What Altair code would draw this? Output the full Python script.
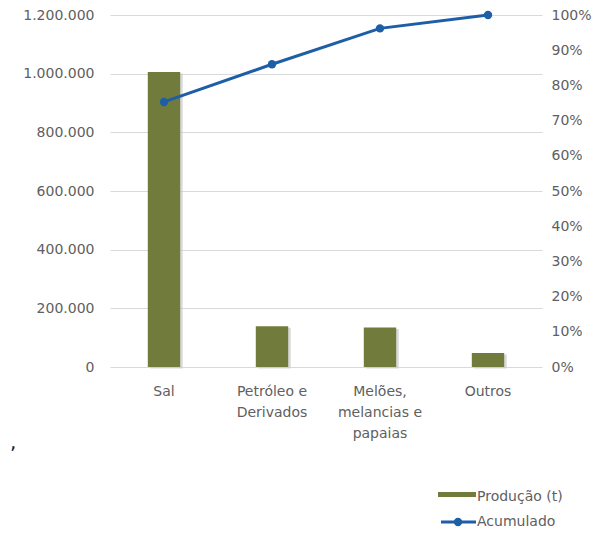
import altair as alt
import pandas as pd

categories = ["Sal", "Petróleo e\nDerivados", "Melões,\nmelancias e\npapaias", "Outros"]
producao = [1006000, 139000, 134500, 48000]
acumulado = [0.753, 0.860, 0.962, 1.0]
left_ticks = [0, 200000, 400000, 600000, 800000, 1000000, 1200000]
right_ticks = [0, 0.1, 0.2, 0.3, 0.4, 0.5, 0.6, 0.7, 0.8, 0.9, 1.0]
legend_labels = ["Produção (t)", "Acumulado"]

df = pd.DataFrame({"cat": categories, "prod": producao, "acum": acumulado})

FONT = "DejaVu Sans"
TXT = "#606060"
OLIVE = "#717c3c"
BLUE = "#1d5ea6"

xenc = alt.X(
    "cat:N",
    sort=categories,
    scale=alt.Scale(paddingInner=0.7, paddingOuter=0.35),
    axis=alt.Axis(
        title=None, labelAngle=0, domain=False, ticks=False,
        labelExpr="split(datum.label, '\\n')", labelLineHeight=21,
        labelPadding=17, labelFontSize=14, labelColor=TXT, labelFont=FONT,
        labelBaseline="top",
    ),
)

yleft = alt.Y(
    "prod:Q",
    scale=alt.Scale(domain=[0, 1200000], nice=False),
    axis=alt.Axis(
        title=None, values=left_ticks, domain=False, ticks=False,
        labelExpr="replace(format(datum.value, ',d'), regexp(',', 'g'), '.')",
        labelPadding=16, labelFontSize=14, labelColor=TXT, labelFont=FONT,
        grid=True, gridColor="#d9d9d9", gridWidth=1,
    ),
)

shadow = alt.Chart(df).mark_bar(color="#c9c9c9", opacity=0.7, xOffset=2.5, yOffset=1.5).encode(
    x=xenc, y=yleft
)
bars = alt.Chart(df).mark_bar(color=OLIVE).encode(x=xenc, y=yleft)

yright = alt.Y(
    "acum:Q",
    scale=alt.Scale(domain=[0, 1], nice=False),
    axis=alt.Axis(
        title=None, orient="right", values=right_ticks, format=".0%",
        domain=False, ticks=False, grid=False,
        labelPadding=9, labelFontSize=14, labelColor=TXT, labelFont=FONT,
    ),
)
line = alt.Chart(df).mark_line(color=BLUE, strokeWidth=3).encode(x=xenc, y=yright)
pts = alt.Chart(df).mark_point(color=BLUE, filled=True, size=70, opacity=1).encode(x=xenc, y=yright)

one = alt.Data(values=[{"a": 1}])
leg_rect = alt.Chart(one).mark_rect(color=OLIVE).encode(
    x=alt.value(328), x2=alt.value(366), y=alt.value(477), y2=alt.value(482)
)
leg_text1 = alt.Chart(one).mark_text(
    text=legend_labels[0], align="left", baseline="middle", font=FONT, fontSize=14, color=TXT
).encode(x=alt.value(367), y=alt.value(482))
leg_line = alt.Chart(one).mark_rule(color=BLUE, strokeWidth=3).encode(
    x=alt.value(331), x2=alt.value(366), y=alt.value(507)
)
leg_dot = alt.Chart(one).mark_point(color=BLUE, filled=True, size=70, opacity=1).encode(
    x=alt.value(348), y=alt.value(507)
)
leg_text2 = alt.Chart(one).mark_text(
    text=legend_labels[1], align="left", baseline="middle", font=FONT, fontSize=14, color=TXT
).encode(x=alt.value(367), y=alt.value(507))
comma = alt.Chart(one).mark_text(
    text=",", align="left", baseline="middle", font=FONT, fontSize=20, color="#222222"
).encode(x=alt.value(-100), y=alt.value(428))

left = alt.layer(shadow, bars)
right = alt.layer(line, pts)

chart = alt.layer(
    left, right, leg_rect, leg_text1, leg_line, leg_dot, leg_text2, comma
).resolve_scale(y="independent").properties(
    width=432, height=352,
    background="white",
    autosize=alt.AutoSizeParams(type="none"),
    padding={"left": 102, "top": 7, "right": 63, "bottom": 165},
).configure_view(strokeWidth=0, stroke="transparent")

chart.save("out.html", embed_options={"renderer": "svg", "actions": False})
